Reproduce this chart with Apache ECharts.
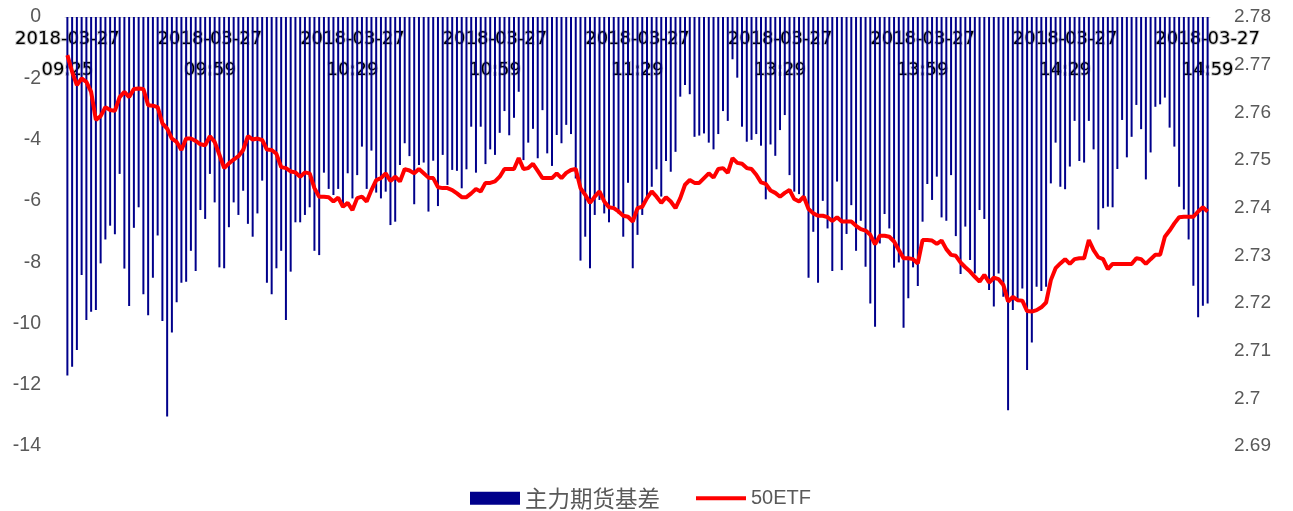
<!DOCTYPE html>
<html>
<head>
<meta charset="utf-8">
<script src="https://cdn.jsdelivr.net/npm/echarts@6/dist/echarts.min.js"></script>
<style>html,body{margin:0;padding:0;background:#fff;}#c{width:1293px;height:511px;}</style>
</head>
<body>
<div id="c"></div>
<script>
const DATE = '2018-03-27';
// session boundaries used to build the minute categories
const SESSIONS = [['09:25','09:25'],['09:30','11:30'],['13:01','14:59']];
const leftTicks = {min:-14, max:0, interval:2};
const rightTicks = {min:2.69, max:2.78, interval:0.01};

const basis = [
-11.7,-11.41,-10.87,-8.42,-9.89,-9.62,-9.56,-8.04,-7.26,-6.81,-7.09,-5.12,-8.21,-9.43,-6.88,-6.21,-9.05,-9.73,-8.51,-7.13,-9.92,
-13.04,-10.3,-9.31,-8.67,-8.64,-7.63,-8.29,-6.3,-6.59,-5.12,-6.05,-8.17,-8.2,-6.86,-6.05,-6.46,-5.67,-6.75,-7.17,-6.41,-5.34,-8.67,
-9.05,-8.2,-7.63,-9.89,-8.31,-6.7,-6.7,-6.46,-6.21,-7.63,-7.77,-5.08,-5.61,-5.81,-5.61,-6.17,-5.1,-5.92,-5.16,-4.23,-5.61,-4.36,
-5.73,-5.92,-5.7,-6.79,-6.68,-4.83,-4.12,-4.54,-6.11,-4.83,-4.75,-6.35,-4.69,-6.17,-4.5,-5.48,-4.99,-5.02,-5.59,-4.97,-3.58,-5.08,
-3.58,-4.8,-4.32,-4.5,-3.78,-3.07,-3.86,-3.29,-2.44,-4.67,-4.1,-3.65,-4.61,-3.04,-4.45,-4.86,-3.85,-4.12,-3.52,-3.82,-5.27,-7.95,
-7.17,-8.2,-6.46,-5.97,-6.41,-6.7,-6.19,-6.41,-7.17,-5.41,-8.2,-7.11,-6.46,-5.86,-5.54,-4.97,-5.86,-4.7,-5.05,-4.4,-2.6,-2.22,
-2.52,-3.91,-3.87,-3.8,-4.1,-4.32,-3.82,-3.07,-3.39,-1.38,-1.98,-3.58,-4.07,-4.01,-3.82,-4.2,-5.95,-4.16,-4.53,-3.69,-3.2,-5.16,
-5.7,-5.78,-5.95,-8.51,-7.01,-8.67,-6.0,-6.9,-8.29,-5.37,-8.26,-7.08,-6.14,-7.63,-6.65,-8.15,-9.35,-10.11,-7.39,-6.43,-6.9,-8.18,
-8.01,-10.14,-9.18,-8.17,-8.78,-6.68,-5.45,-5.97,-5.21,-6.54,-6.65,-5.16,-7.15,-8.39,-6.84,-7.93,-8.37,-6.3,-6.59,-8.91,-9.45,-8.37,-9.13,
-12.83,-9.56,-9.24,-8.86,-11.52,-10.62,-8.8,-8.94,-8.8,-5.43,-4.1,-5.54,-5.62,-4.88,-3.39,-4.7,-4.75,-3.39,-4.32,-6.94,-6.24,-6.19,
-6.21,-4.96,-3.36,-4.58,-3.91,-2.87,-3.66,-5.3,-4.42,-2.93,-2.85,-2.63,-3.61,-4.23,-5.54,-6.28,-7.26,-8.77,-9.8,-9.42,-9.35
];

const etf = [
2.772,2.7685,2.7657,2.7671,2.7664,2.7643,2.7584,2.7592,2.7611,2.7605,2.7603,2.7632,2.7643,2.7632,2.7649,2.765,2.7649,2.7615,2.7614,2.7611,2.7577,
2.7566,2.7545,2.7538,2.7521,2.7545,2.7545,2.754,2.7533,2.7531,2.755,2.7538,2.7511,2.7483,2.7493,2.7501,2.7508,2.7521,2.755,2.7543,2.7545,2.7542,2.7522,
2.7521,2.7513,2.7485,2.7483,2.7476,2.7474,2.7465,2.7474,2.7472,2.7441,2.7423,2.7423,2.7422,2.7413,2.7421,2.7402,2.741,2.7395,2.742,2.7423,2.7413,2.7437,
2.7458,2.7462,2.7472,2.7456,2.7465,2.7455,2.7481,2.7478,2.7472,2.7481,2.7472,2.7463,2.7462,2.7443,2.7441,2.7441,2.7437,2.743,2.7422,2.7422,2.743,2.7439,
2.7434,2.7452,2.7452,2.7455,2.7465,2.7481,2.7481,2.7481,2.7504,2.7481,2.7483,2.7492,2.7477,2.7462,2.7462,2.7462,2.7472,2.7462,2.7473,2.7479,2.7481,2.7441,
2.7427,2.741,2.7423,2.7434,2.7413,2.7401,2.7399,2.7392,2.7383,2.7381,2.7371,2.7399,2.7402,2.742,2.7434,2.7423,2.741,2.7422,2.7413,2.7399,2.742,2.7448,
2.7458,2.7452,2.7452,2.7462,2.7472,2.7463,2.7481,2.7483,2.7473,2.7504,2.7494,2.7492,2.7483,2.7481,2.7469,2.7453,2.745,2.7436,2.7431,2.7423,2.7431,2.7437,
2.7418,2.7413,2.7423,2.7397,2.7388,2.7383,2.7383,2.738,2.7372,2.738,2.7371,2.7371,2.7371,2.7362,2.7355,2.7352,2.7343,2.7323,2.7341,2.7341,2.7339,2.7329,
2.7311,2.7294,2.7294,2.7292,2.7283,2.7332,2.7332,2.7331,2.7324,2.7331,2.7313,2.7301,2.7299,2.7285,2.7275,2.7266,2.7255,2.7245,2.7259,2.7243,2.7253,2.725,2.7238,
2.7203,2.7213,2.7206,2.7205,2.7183,2.7182,2.7185,2.7191,2.7201,2.7248,2.7273,2.7283,2.7292,2.7282,2.7292,2.7294,2.7294,2.7332,2.7311,2.7296,2.7292,2.7271,
2.7282,2.7282,2.7282,2.7282,2.7282,2.7294,2.7292,2.7282,2.7292,2.7301,2.7301,2.7339,2.7352,2.7367,2.738,2.7381,2.7381,2.7381,2.7392,2.7401,2.7392
];

// build minute categories from the sessions
function toMin(s){const p=s.split(':');return (+p[0])*60+(+p[1]);}
function fmt(m){const h=Math.floor(m/60),mm=m%60;return (h<10?'0':'')+h+':'+(mm<10?'0':'')+mm;}
const times = [];
SESSIONS.forEach(([a,b])=>{for(let m=toMin(a);m<=toMin(b);m++) times.push(fmt(m));});

const chart = echarts.init(document.getElementById('c'), null, {renderer:'canvas'});
chart.setOption({
  animation:false,
  backgroundColor:'#fff',
  grid:{left:65, right:83, top:17, bottom:65, containLabel:false},
  legend:{
    left:465, top:482, itemWidth:50, itemHeight:13, itemGap:36, symbolKeepAspect:true,
    textStyle:{fontSize:20, color:'#595959', fontFamily:'Liberation Sans, Noto Sans CJK SC',
      rich:{c:{fontSize:22.5, color:'#595959', fontFamily:'Noto Sans CJK SC'},
            e:{fontSize:20, color:'#595959', fontFamily:'Liberation Sans'}}},
    formatter:name=>name==='50ETF' ? '{e|'+name+'}' : '{c|'+name+'}',
    data:[{name:'主力期货基差', icon:'rect'},
          {name:'50ETF', icon:'path://M0,0H50V4H0Z'}]
  },
  xAxis:{
    type:'category', data:times, position:'top', boundaryGap:true,
    axisLine:{show:true, lineStyle:{color:'#d9d9d9', width:1}},
    axisTick:{show:false},
    splitLine:{show:false},
    axisLabel:{inside:true, interval:29, margin:7, color:'#000', fontSize:18, lineHeight:31,
      fontFamily:'DejaVu Sans', textBorderColor:'rgba(120,120,120,0.35)', textBorderWidth:2,
      formatter:v=>DATE+'\n'+v}
  },
  yAxis:[
    {type:'value', min:leftTicks.min, max:leftTicks.max, interval:leftTicks.interval,
     axisLine:{show:false}, axisTick:{show:false}, splitLine:{show:false},
     axisLabel:{color:'#595959', fontSize:19.5, margin:24, fontFamily:'Liberation Sans'}},
    {type:'value', min:rightTicks.min, max:rightTicks.max, interval:rightTicks.interval,
     axisLine:{show:false}, axisTick:{show:false}, splitLine:{show:false},
     axisLabel:{color:'#595959', fontSize:19, margin:24, fontFamily:'Liberation Sans',
       formatter:v=>String(+v.toFixed(2))}}
  ],
  series:[
    {name:'主力期货基差', type:'bar', yAxisIndex:0, data:basis, barWidth:2,
     itemStyle:{color:'#00008B'}},
    {name:'50ETF', type:'line', yAxisIndex:1, data:etf, symbol:'none', z:5,
     lineStyle:{color:'#FF0000', width:4}, itemStyle:{color:'#FF0000'}}
  ]
});
</script>
</body>
</html>
